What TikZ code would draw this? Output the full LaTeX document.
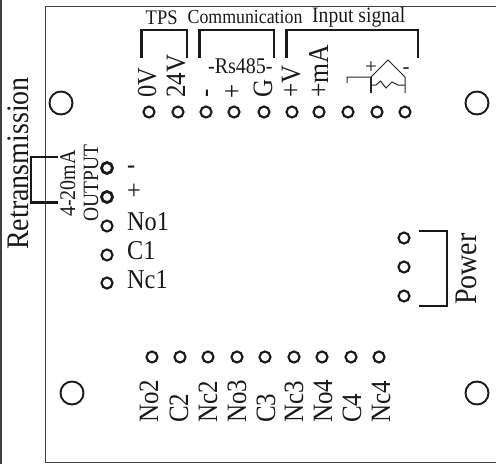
\documentclass[tikz,border=0pt]{standalone}
\usepackage{graphicx}
\usepackage{fontspec}
\setmainfont{Liberation Serif}
\tikzset{
  px/.style={x=1pt,y=-1pt},
  term/.style={circle,draw=black!90,line width=2.1pt,minimum size=11pt,inner sep=0pt},
  termb/.style={term,line width=2.8pt},
  hole/.style={circle,draw=black!90,line width=1.9pt,minimum size=23pt,inner sep=0pt},
  brk/.style={draw=black!90,line width=2.3pt,line cap=butt,line join=miter},
  frame/.style={draw=black!75,line width=1pt},
  vlab/.style={rotate=90,anchor=base west,inner sep=0pt,text=black!90},
  hlab/.style={anchor=base west,inner sep=0pt,text=black!90},
  sym/.style={draw=black!85,line width=1pt},
}
\newcommand{\fs}[1]{\fontsize{#1}{#1}\selectfont}
\newcommand{\tl}[1]{\scalebox{1}[1.12]{#1}}
\begin{document}
\begin{tikzpicture}[px]
\useasboundingbox (0,0) rectangle (496,464);
\fill[white] (0,0) rectangle (496,464);
% frame
\draw[frame] (496,6.5) -- (45.5,6.5) -- (45.5,462.5) -- (496,462.5);
\draw[frame,line width=1.5pt] (1,0) -- (1,464);
% mounting holes
\node[hole] (h1) at (61,103) {};
\node[hole] (h2) at (477,103) {};
\node[hole] (h3) at (72,393) {};
\node[hole] (h4) at (477,393) {};
% top terminals
\foreach \n/\x in {1/149,2/178,3/206,4/234,5/264,6/292,7/319,8/348,9/377,10/405}
  \node[term] (t\n) at (\x,112) {};
% left terminals
\node[termb] (l1) at (107,168) {};
\node[termb] (l2) at (107,197) {};
\foreach \n/\y in {3/226,4/255,5/283}
  \node[term] (l\n) at (107,\y) {};
% bottom terminals
\foreach \n/\x in {1/152,2/180,3/208,4/237,5/265,6/294,7/322,8/351,9/379}
  \node[term] (b\n) at (\x,357) {};
% power terminals
\foreach \n/\y in {1/238,2/267,3/296}
  \node[term] (p\n) at (404,\y) {};
% brackets
\draw[brk] (141.5,57.5) -- (141.5,30) -- (187,30) -- (187,57.5);
\draw[brk] (199.5,57.5) -- (199.5,30) -- (274,30) -- (274,57.5);
\draw[brk] (286.5,57.5) -- (286.5,30) -- (418,30) -- (418,57.5);
\draw[brk] (58,157) -- (31,157) -- (31,202.5) -- (58,202.5);
\draw[brk] (419,231) -- (447,231) -- (447,306) -- (419,306);
% heading labels
\node[hlab,font=\fs{18.5}] (ntps) at (145.5,24.5) {\tl{TPS}};
\node[hlab,font=\fs{17.8}] (ncom) at (187.5,23) {\tl{Communication}};
\node[hlab,font=\fs{19.6}] (ninp) at (312,22) {\tl{Input signal}};
\node[hlab,font=\fs{20}] (nrs) at (208,73) {\tl{-Rs485-}};
% rotated labels on top
\node[vlab,font=\fs{24.5}] (n0v) at (156,98) {\tl{0V}};
\node[vlab,font=\fs{25}] (n24) at (185,98) {\tl{24V}};
\node[vlab,font=\fs{25}] (nm) at (213.5,98) {\tl{-}};
\node[vlab,font=\fs{25}] (np) at (241,99) {\tl{+}};
\node[vlab,font=\fs{25}] (ng) at (272,98) {\tl{G}};
\node[vlab,font=\fs{25}] (nv) at (300,98) {\tl{+V}};
\node[vlab,font=\fs{25.7}] (nma) at (328,98) {\tl{+mA}};
% sensor symbol
\draw[sym] (347,83) -- (347,77) -- (371,77) -- (388,60) -- (405,77) -- (405,93);
\draw[sym,line width=1.7pt] (371,77) -- (371,93);
\draw[sym] (371,85) -- (376,85) -- (380.5,81) -- (386,88) -- (392,82) -- (398,85) -- (405,85);
\node[hlab,font=\fs{21}] (sp) at (365,73) {+};
\node[hlab,font=\fs{21}] (sm) at (402.5,73.6) {-};
% left side
\node[vlab,font=\fs{28}] (nret) at (28,250) {\tl{Retransmission}};
\node[vlab,font=\fs{20}] (n420) at (75,217) {\tl{4-20mA}};
\node[vlab,font=\fs{19.5}] (nout) at (98,222) {\tl{OUTPUT}};
\node[hlab,font=\fs{24.3}] (lm) at (127,173) {\tl{-}};
\node[hlab,font=\fs{24.3}] (lp) at (127,199) {\tl{+}};
\node[hlab,font=\fs{24.3}] (lno) at (127,230) {\tl{No1}};
\node[hlab,font=\fs{24.3}] (lc) at (127,259) {\tl{C1}};
\node[hlab,font=\fs{24.3}] (lnc) at (127,288) {\tl{Nc1}};
% bottom labels
\foreach \n/\x/\t in {1/158/No2,2/188/C2,3/217/Nc2,4/246/No3,5/275/C3,6/303/Nc3,7/332/No4,8/361/C4,9/390/Nc4}
  \node[vlab,font=\fs{25}] (bl\n) at (\x,423) {\tl{\t}};
% power
\node[vlab,font=\fs{28}] (npow) at (476.5,305) {\tl{Power}};
\end{tikzpicture}
\end{document}
